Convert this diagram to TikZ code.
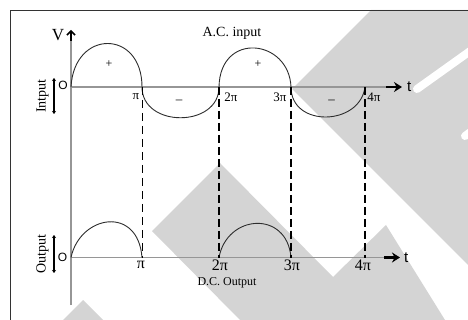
\documentclass[tikz,border=0pt]{standalone}
\usepackage{fontspec}
\setmainfont{Liberation Serif}
\newfontfamily\axisfont{Liberation Sans}
\usetikzlibrary{arrows.meta}
\definecolor{wmgray}{RGB}{212,212,212}
\definecolor{axisgray}{RGB}{150,150,150}
\definecolor{curvegray}{RGB}{45,45,45}

\begin{document}
\begin{tikzpicture}[x=1pt, y=-1pt, >=Stealth, line join=round,
    axisline/.style={draw=axisgray, line width=1.4pt},
    wave/.style={draw=curvegray, line width=0.9pt},
    thindash/.style={draw=black, line width=0.9pt, dash pattern=on 8pt off 5pt},
    thickdash/.style={draw=black, line width=1.7pt, dash pattern=on 8pt off 4pt},
    tarrow/.style={line width=2.2pt, -{Stealth[length=8pt,width=10pt]}},
    sidebar/.style={line width=2pt, {Stealth[length=3pt,width=4pt]}-{Stealth[length=3pt,width=4pt]}},
    txt/.style={font=\fontsize{14}{16}\selectfont, inner sep=0pt},
    uplbl/.style={font=\fontsize{13}{15}\selectfont, inner sep=0pt},
    lowlbl/.style={font=\fontsize{16}{18}\selectfont, inner sep=0pt},
    sanslbl/.style={font=\axisfont\fontsize{12}{14}\selectfont, inner sep=0pt}]
  \useasboundingbox (0,0) rectangle (468,320);

  % 0. background marks
  \fill[wmgray] (292,89) -- (371,10) -- (468,10) -- (468,265) -- cycle;
  \fill[wmgray] (152,231) -- (220,163) -- (333,277) -- (386,225) -- (445,320) -- (240,320) -- cycle;
  \fill[wmgray] (63,320) -- (83,300) -- (103,320) -- cycle;
  \draw[white, line width=8pt, line cap=round] (417,89) -- (480,44);
  \draw[white, line width=8pt, line cap=round] (465,136) -- (490,118);

  % 1. frame
  \draw[black!80, line width=0.9pt] (10,320) -- (10,10) -- (468,10);

  % 2. axes
  \coordinate (O1) at (71,87);
  \coordinate (O2) at (71,257.5);
  \draw[axisline] (71,305) -- (71,40);
  \draw[line width=1.5pt, -{Straight Barb[length=4pt,width=8pt]}] (71,41) -- (71,30);
  \draw[axisline] (O1) -- (388,87);
  \draw[tarrow] (386,87) -- (402,87) node[sanslbl, font=\axisfont\fontsize{15}{17}\selectfont, right=4pt] (t1) {t};
  \draw[axisline] (O2) -- (386,257.5);
  \draw[tarrow] (384,257.5) -- (400,257.5) node[sanslbl, font=\axisfont\fontsize{15}{17}\selectfont, right=3pt] (t2) {t};

  % 3. zero crossings
  \foreach \k/\xk in {1/142, 2/219, 3/291, 4/365} {
    \coordinate (P\k) at (\xk,87);
    \coordinate (Q\k) at (\xk,257.5);
  }

  % 4. input and output waves
  \draw[wave] (O1) .. controls (74,29) and (142,29) .. (P1)
    .. controls (142,128) and (219,128) .. (P2)
    .. controls (220,31) and (289,39) .. (P3)
    .. controls (291,128) and (360,126) .. (P4);
  \draw[wave] (O2) .. controls (80,215) and (138,205) .. (Q1);
  \draw[wave] (Q2) .. controls (227,214) and (287,210) .. (Q3);

  % 5. projections
  \draw[thindash] (P1) -- (Q1);
  \draw[thickdash] (P2) -- (Q2);
  \draw[thickdash] (P3) -- (Q3);
  \draw[thickdash] (P4) -- (Q4);

  % 6. labels
  \node[font=\fontsize{17}{19}\selectfont, inner sep=0pt] (vlbl) at (58,35) {V};
  \node[sanslbl] (o1) at (63,85) {O};
  \node[sanslbl] (o2) at (62.5,257) {O};
  \node[txt] (aclbl) at (232,33) {A.C. input};
  \node[txt, font=\fontsize{12}{14}\selectfont] (dclbl) at (227,283) {D.C. Output};
  \node[txt, rotate=90] (inlbl) at (42.5,96) {Intput};
  \node[txt, rotate=90] (outlbl) at (42.5,254) {Output};
  \draw[sidebar] (54,78) -- (54,114);
  \draw[sidebar] (54,235) -- (54,273);

  \node[uplbl] (pa) at (136,97) {π};
  \node[uplbl] (pb) at (231,97) {2π};
  \node[uplbl] (pc) at (280,97) {3π};
  \node[uplbl] (pd) at (374,97) {4π};
  \node[lowlbl] (qa) at (141,265) {π};
  \node[lowlbl] (qb) at (220,265) {2π};
  \node[lowlbl] (qc) at (292,265) {3π};
  \node[lowlbl] (qd) at (363,265) {4π};

  \node[uplbl, font=\fontsize{12}{14}\selectfont] (plus1) at (109,64.5) {+};
  \node[uplbl, font=\fontsize{12}{14}\selectfont] (plus2) at (258,64.5) {+};
  \node[uplbl] (minus1) at (179,101.5) {–};
  \node[uplbl] (minus2) at (331.5,101.5) {–};
\end{tikzpicture}
\end{document}
